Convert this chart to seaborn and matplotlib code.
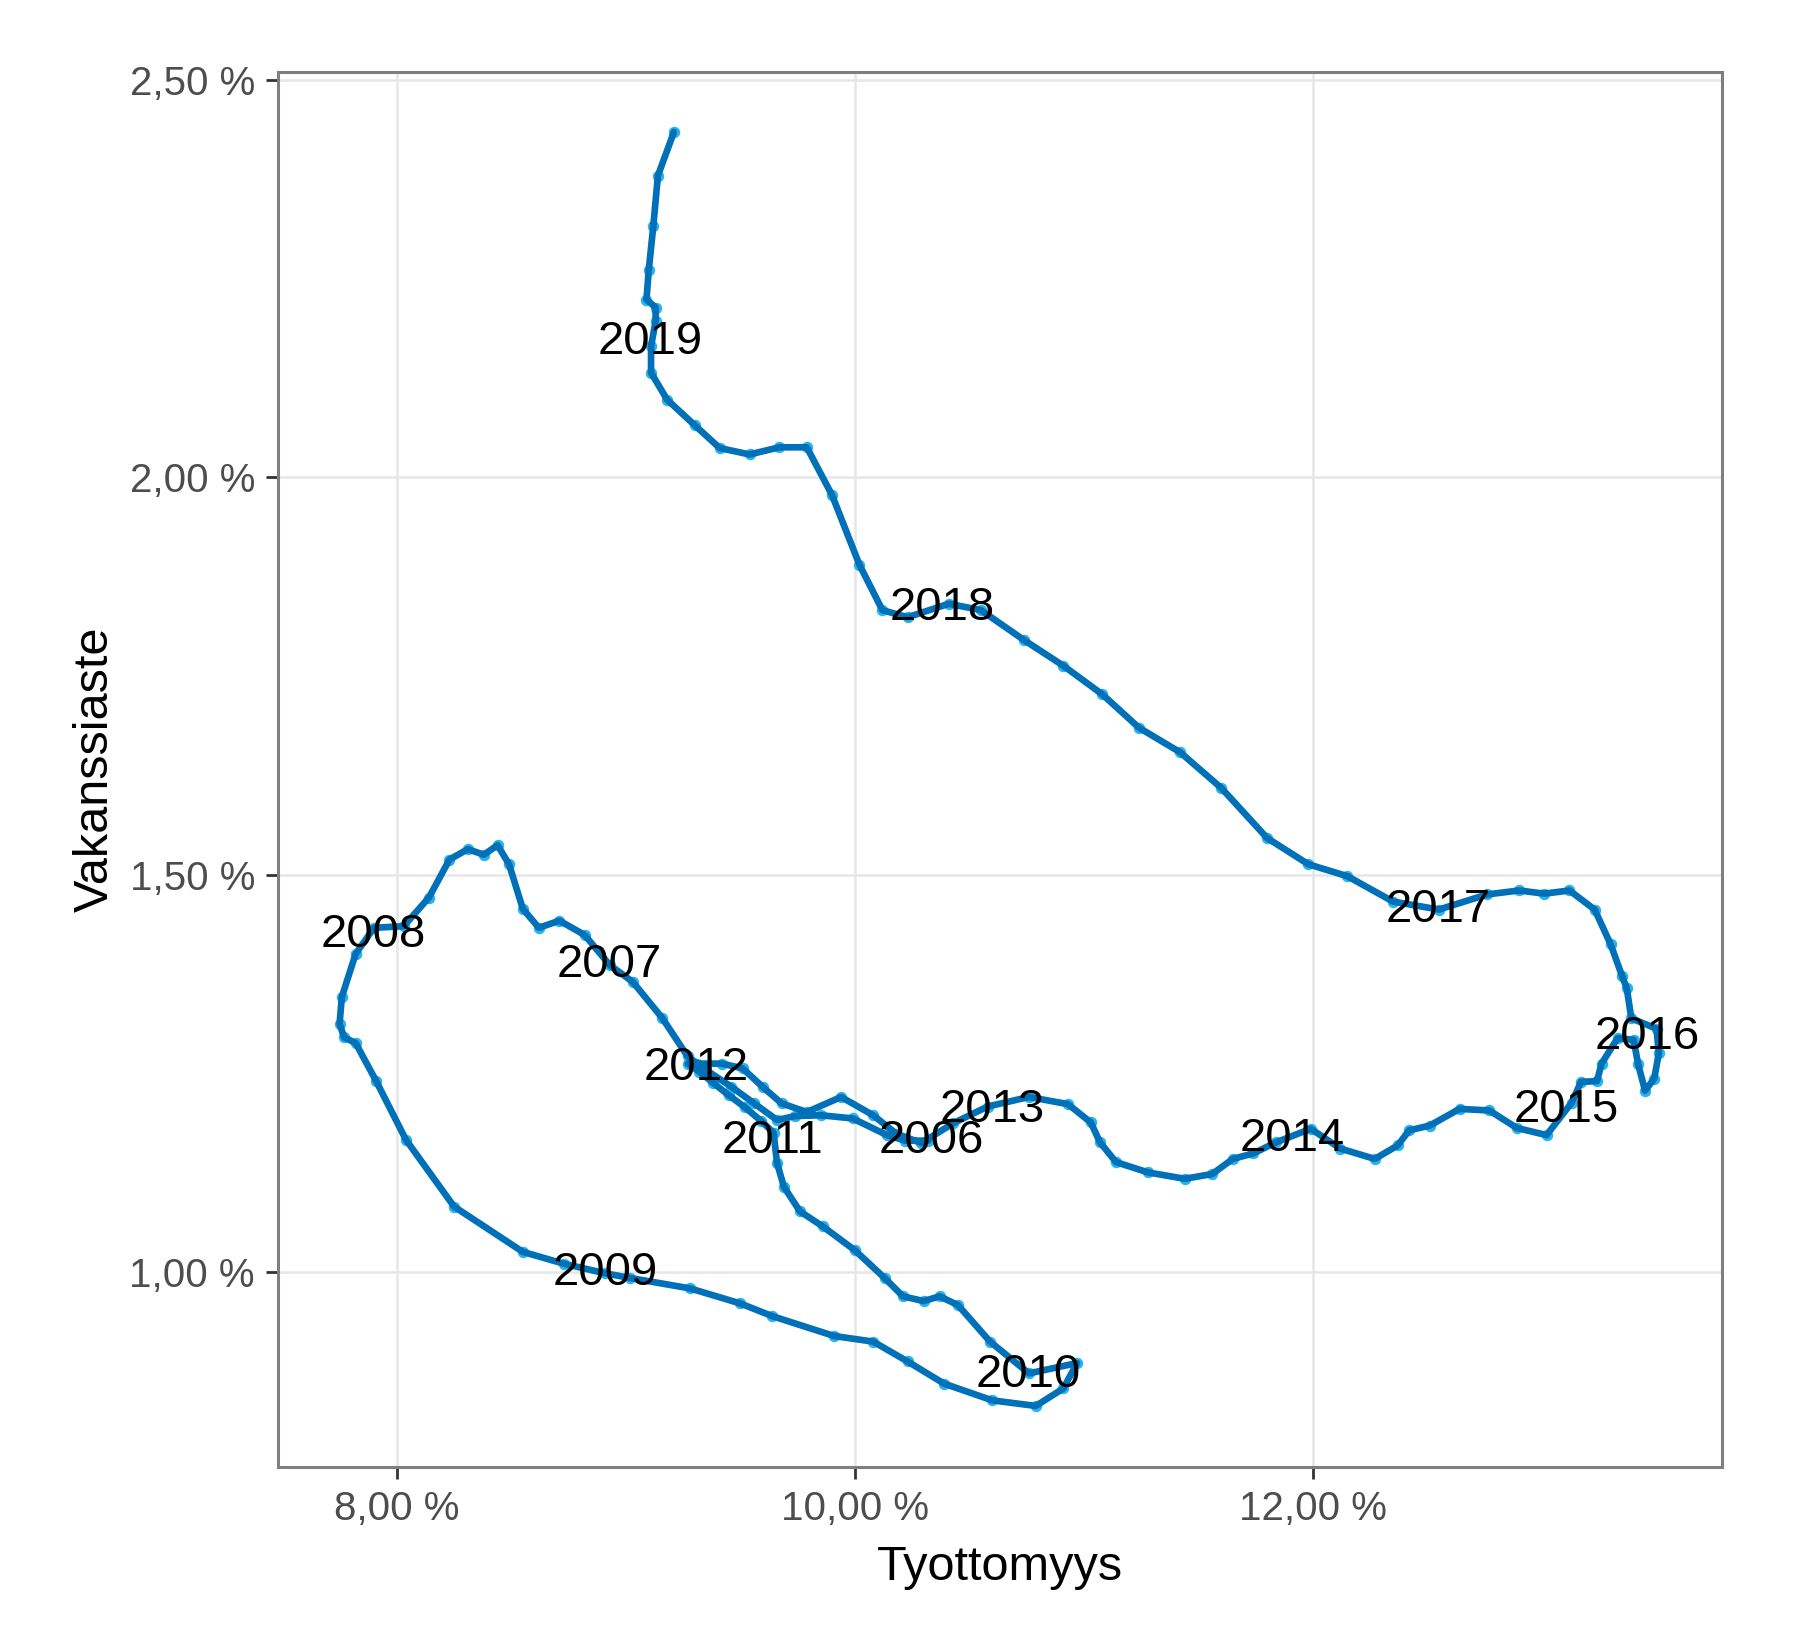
import pandas as pd
import seaborn as sns
import matplotlib.pyplot as plt
from matplotlib.ticker import FuncFormatter, FixedLocator

# tyottomyys (x) ja vakanssiaste (y), kuukausittain 2006 -> 2019
tyottomyys = [
    # 2006
    10.32, 10.22, 10.14, 9.99, 9.85, 9.74, 9.66, 9.56, 9.46, 9.35, 9.27, 9.16, 9.03,
    # 2007
    8.93, 8.82, 8.71, 8.62, 8.55, 8.49, 8.44, 8.38, 8.31, 8.23, 8.14, 8.03,
    # 2008
    7.90, 7.82, 7.76, 7.75, 7.77, 7.82, 7.91, 8.04, 8.25, 8.55, 8.73,
    # 2009
    8.91, 9.02, 9.28, 9.50, 9.64, 9.91, 10.08, 10.23, 10.39, 10.60, 10.79, 10.91,
    # 2010
    10.97, 10.76, 10.59, 10.45, 10.37, 10.30, 10.21, 10.13, 10.00, 9.86, 9.76, 9.69,
    # 2011
    9.66, 9.645, 9.59, 9.52, 9.45, 9.38, 9.32, 9.27,
    # 2012
    9.31, 9.42, 9.51, 9.60, 9.68, 9.79, 9.94, 10.08, 10.18, 10.29, 10.43, 10.58,
    # 2013
    10.76, 10.93, 11.03, 11.07, 11.14, 11.28, 11.44, 11.56, 11.65, 11.74, 11.84,
    # 2014
    11.99, 12.12, 12.27, 12.37, 12.42, 12.51, 12.64, 12.77, 12.89, 13.02, 13.13,
    # 2015
    13.17, 13.24, 13.26, 13.33, 13.40, 13.42, 13.45, 13.49, 13.51, 13.50,
    # 2016
    13.39, 13.37, 13.35, 13.30, 13.23, 13.12, 13.01, 12.90, 12.76,
    # 2017
    12.55, 12.35, 12.15, 11.98, 11.80, 11.60, 11.42, 11.24, 11.08, 10.91, 10.74, 10.55,
    # 2018
    10.41, 10.23, 10.12, 10.02, 9.90, 9.79, 9.67, 9.54, 9.41, 9.30, 9.18, 9.11,
    # 2019
    9.11, 9.13, 9.13, 9.09, 9.10, 9.12, 9.14, 9.21,
]
vakanssiaste = [
    # 2006
    1.165, 1.165, 1.172, 1.193, 1.197, 1.196, 1.191, 1.212, 1.233, 1.254, 1.271, 1.319, 1.365,
    # 2007
    1.386, 1.424, 1.442, 1.433, 1.457, 1.513, 1.537, 1.525, 1.532, 1.519, 1.471, 1.435,
    # 2008
    1.433, 1.400, 1.346, 1.312, 1.295, 1.288, 1.240, 1.166, 1.082, 1.025, 1.010,
    # 2009
    0.998, 0.992, 0.979, 0.960, 0.944, 0.919, 0.912, 0.887, 0.859, 0.838, 0.831, 0.853,
    # 2010
    0.885, 0.872, 0.912, 0.958, 0.969, 0.963, 0.969, 0.992, 1.027, 1.057, 1.076, 1.107,
    # 2011
    1.137, 1.175, 1.190, 1.207, 1.222, 1.238, 1.252, 1.262,
    # 2012
    1.262, 1.262, 1.256, 1.232, 1.212, 1.201, 1.220, 1.197, 1.174, 1.162, 1.187, 1.208,
    # 2013
    1.220, 1.211, 1.188, 1.163, 1.138, 1.125, 1.117, 1.123, 1.142, 1.149, 1.163,
    # 2014
    1.180, 1.155, 1.142, 1.159, 1.178, 1.184, 1.205, 1.203, 1.181, 1.172, 1.213,
    # 2015
    1.239, 1.240, 1.262, 1.294, 1.292, 1.261, 1.228, 1.243, 1.275, 1.306,
    # 2016
    1.319, 1.357, 1.372, 1.412, 1.456, 1.480, 1.476, 1.480, 1.475,
    # 2017
    1.456, 1.466, 1.498, 1.513, 1.546, 1.609, 1.654, 1.685, 1.727, 1.763, 1.795, 1.833,
    # 2018
    1.841, 1.824, 1.833, 1.890, 1.978, 2.038, 2.038, 2.029, 2.037, 2.066, 2.098, 2.132,
    # 2019
    2.165, 2.197, 2.214, 2.224, 2.261, 2.317, 2.380, 2.435,
]

# vuosien tekstit
vuodet = [2006, 2007, 2008, 2009, 2010, 2011, 2012, 2013, 2014, 2015, 2016, 2017, 2018, 2019]
vuosi_x = [10.335, 8.928, 7.897, 8.909, 10.757, 9.638, 9.309, 10.598, 11.908, 13.108, 13.458, 12.548, 10.379, 9.105]
vuosi_y = [1.165, 1.386, 1.424, 0.998, 0.870, 1.165, 1.257, 1.203, 1.167, 1.204, 1.296, 1.456, 1.836, 2.170]

x_ticks = [8, 10, 12]
y_ticks = [1.0, 1.5, 2.0, 2.5]

df = pd.DataFrame({"Tyottomyys": tyottomyys, "Vakanssiaste": vakanssiaste})

sns.set_theme(style="whitegrid")
plt.rcParams["font.family"] = ["Liberation Sans", "DejaVu Sans"]

fig = plt.figure(figsize=(9.03, 8.25), dpi=200)
ax = fig.add_axes([0.1539, 0.1109, 0.7996, 0.8455])

sns.scatterplot(data=df, x="Tyottomyys", y="Vakanssiaste", color="#29b4ec",
                s=17, linewidth=0, ax=ax, zorder=2)
sns.lineplot(data=df, x="Tyottomyys", y="Vakanssiaste", sort=False, estimator=None,
             color="#0070b8", linewidth=2.4, ax=ax, zorder=3)

for v, xx, yy in zip(vuodet, vuosi_x, vuosi_y):
    ax.text(xx, yy, str(v), ha="center", va="center", fontsize=17, color="black", zorder=4)

ax.set_xlim(7.481, 13.786)
ax.set_ylim(0.7541, 2.5106)
ax.xaxis.set_major_locator(FixedLocator(x_ticks))
ax.yaxis.set_major_locator(FixedLocator(y_ticks))
fmt = FuncFormatter(lambda v, p: f"{v:.2f}".replace(".", ",") + " %")
ax.xaxis.set_major_formatter(fmt)
ax.yaxis.set_major_formatter(fmt)

ax.grid(True, color="#e6e6e6", linewidth=0.9)
for s in ax.spines.values():
    s.set_visible(True)
    s.set_color("#7f7f7f")
    s.set_linewidth(1.1)
ax.tick_params(bottom=True, left=True, length=4.3, width=1.0, color="#333333",
               labelsize=14.5, labelcolor="#4d4d4d", pad=4)

ax.set_xlabel("Tyottomyys", fontsize=17.5, color="black", labelpad=6)
ax.set_ylabel("Vakanssiaste", fontsize=17.5, color="black", labelpad=4)

fig.savefig("out.png", dpi=200)
